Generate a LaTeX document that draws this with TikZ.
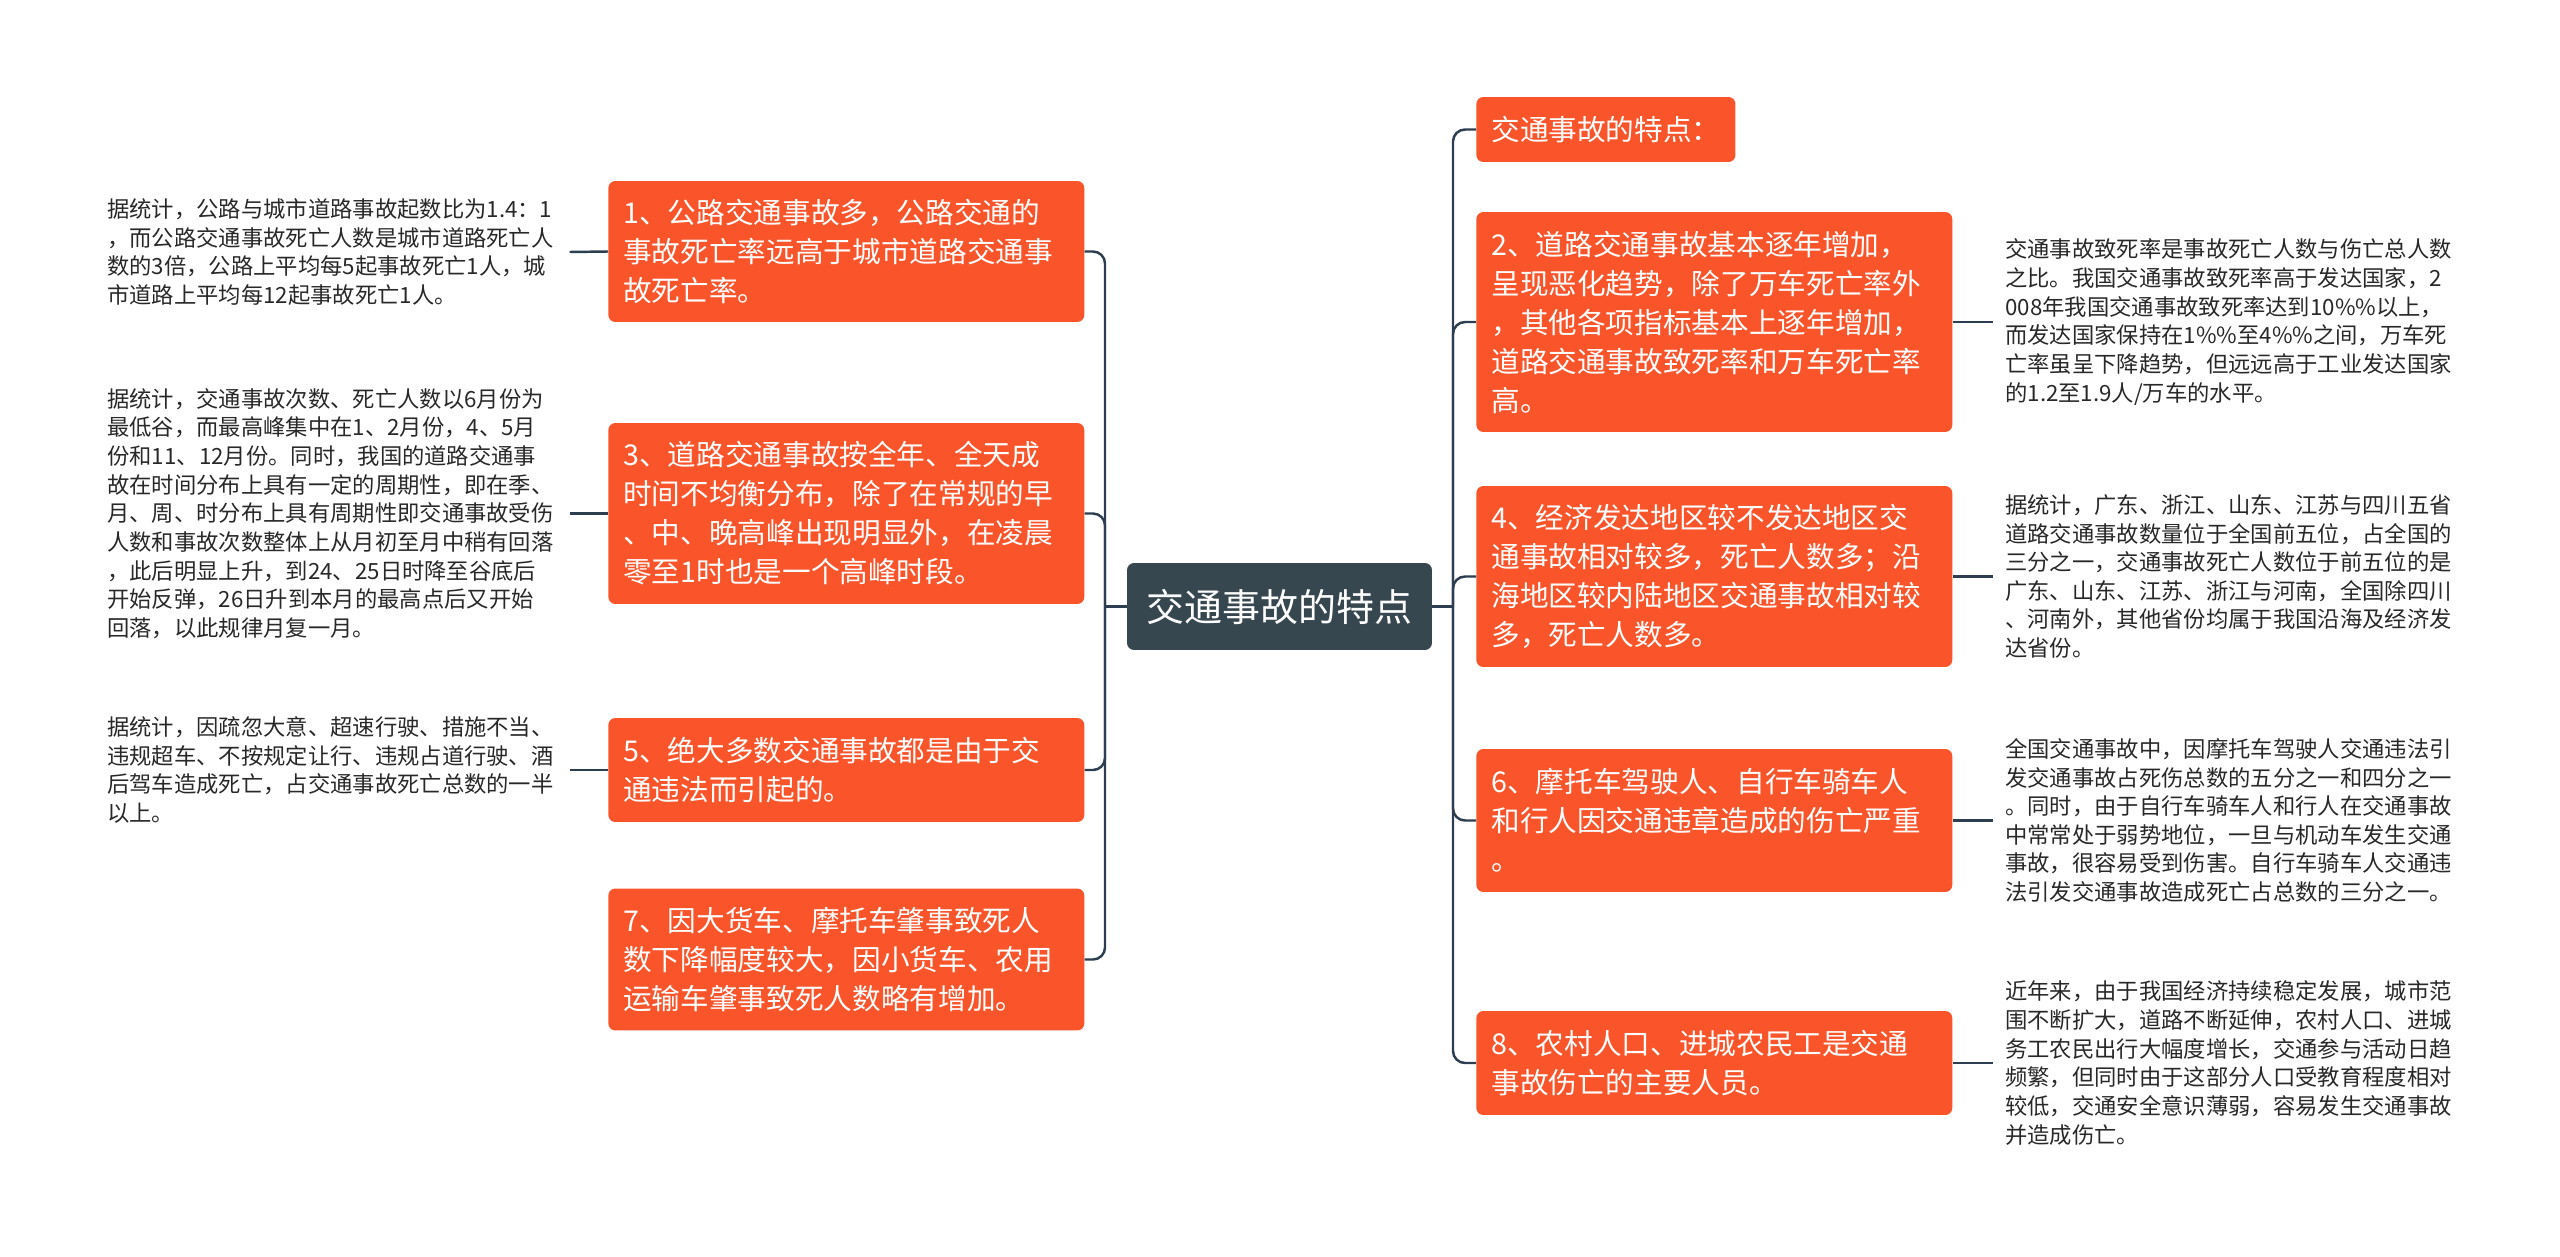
\documentclass[tikz,border=0pt]{standalone}
\usepackage{fontspec}
\setmainfont{Noto Sans CJK SC}
\usepackage{tikz}

\definecolor{boxorange}{RGB}{250,84,43}
\definecolor{rootslate}{RGB}{55,71,79}
\definecolor{linenavy}{RGB}{44,62,80}
\definecolor{notegray}{RGB}{40,40,40}

\begin{document}
\begin{tikzpicture}[
    x=0.02cm, y=-0.02cm,
    mainbox/.style={rounded corners=0.14cm, fill=rootslate, text=white, inner sep=0pt,
        minimum width=6.1cm, minimum height=1.74cm, font=\fontsize{21.6pt}{26pt}\selectfont},
    subbox/.style={rounded corners=0.14cm, fill=boxorange, text=white, anchor=west, align=left,
        inner xsep=0.3cm, inner ysep=0pt, text width=8.92cm, minimum width=9.52cm,
        font=\fontsize{16.3pt}{22.2pt}\selectfont},
    notetext/.style={anchor=west, align=left, text=notegray, inner xsep=0.24cm, inner ysep=0pt,
        text width=9.0cm, font=\fontsize{12.7pt}{16.3pt}\selectfont},
    conn/.style={draw=linenavy, line width=1.4pt, rounded corners=0.24cm}
]
    \useasboundingbox (0,0) rectangle (2560,1257);

    % Central topic
    \node[mainbox] (root) at (1279.5,606.5) {交通事故的特点};
    \coordinate (ljoin) at (1105,606.5);
    \coordinate (rjoin) at (1453,606.5);

    % Left branches
    \node[subbox, minimum height=2.82cm] (b1) at (608,251.5)
        {1、公路交通事故多，公路交通的\\事故死亡率远高于城市道路交通事\\故死亡率。};
    \node[subbox, minimum height=3.62cm] (b3) at (608,513.5)
        {3、道路交通事故按全年、全天成\\时间不均衡分布，除了在常规的早\\、中、晚高峰出现明显外，在凌晨\\零至1时也是一个高峰时段。};
    \node[subbox, minimum height=2.08cm] (b5) at (608,770)
        {5、绝大多数交通事故都是由于交\\通违法而引起的。};
    \node[subbox, minimum height=2.84cm] (b7) at (608,959.5)
        {7、因大货车、摩托车肇事致死人\\数下降幅度较大，因小货车、农用\\运输车肇事致死人数略有增加。};

    % Right branches
    \node[subbox, text width=, minimum width=5.14cm, minimum height=1.3cm, align=center] (r0) at (1476,129.5)
        {交通事故的特点：};
    \node[subbox, minimum height=4.4cm] (r2) at (1476,322)
        {2、道路交通事故基本逐年增加，\\呈现恶化趋势，除了万车死亡率外\\，其他各项指标基本上逐年增加，\\道路交通事故致死率和万车死亡率\\高。};
    \node[subbox, minimum height=3.62cm] (r4) at (1476,576.5)
        {4、经济发达地区较不发达地区交\\通事故相对较多，死亡人数多；沿\\海地区较内陆地区交通事故相对较\\多，死亡人数多。};
    \node[subbox, minimum height=2.86cm] (r6) at (1476,820.5)
        {6、摩托车驾驶人、自行车骑车人\\和行人因交通违章造成的伤亡严重\\。};
    \node[subbox, minimum height=2.08cm] (r8) at (1476,1063)
        {8、农村人口、进城农民工是交通\\事故伤亡的主要人员。};

    % Notes on the left
    \node[notetext] (n1) at (95,252)
        {据统计，公路与城市道路事故起数比为1.4：1\\，而公路交通事故死亡人数是城市道路死亡人\\数的3倍，公路上平均每5起事故死亡1人，城\\市道路上平均每12起事故死亡1人。};
    \node[notetext] (n3) at (95,513.5)
        {据统计，交通事故次数、死亡人数以6月份为\\最低谷，而最高峰集中在1、2月份，4、5月\\份和11、12月份。同时，我国的道路交通事\\故在时间分布上具有一定的周期性，即在季、\\月、周、时分布上具有周期性即交通事故受伤\\人数和事故次数整体上从月初至月中稍有回落\\，此后明显上升，到24、25日时降至谷底后\\开始反弹，26日升到本月的最高点后又开始\\回落，以此规律月复一月。};
    \node[notetext] (n5) at (95,770)
        {据统计，因疏忽大意、超速行驶、措施不当、\\违规超车、不按规定让行、违规占道行驶、酒\\后驾车造成死亡，占交通事故死亡总数的一半\\以上。};

    % Notes on the right
    \node[notetext] (n2) at (1993,322)
        {交通事故致死率是事故死亡人数与伤亡总人数\\之比。我国交通事故致死率高于发达国家，2\\008年我国交通事故致死率达到10\%\%以上，\\而发达国家保持在1\%\%至4\%\%之间，万车死\\亡率虽呈下降趋势，但远远高于工业发达国家\\的1.2至1.9人/万车的水平。};
    \node[notetext] (n4) at (1993,576.5)
        {据统计，广东、浙江、山东、江苏与四川五省\\道路交通事故数量位于全国前五位，占全国的\\三分之一，交通事故死亡人数位于前五位的是\\广东、山东、江苏、浙江与河南，全国除四川\\、河南外，其他省份均属于我国沿海及经济发\\达省份。};
    \node[notetext] (n6) at (1993,820.5)
        {全国交通事故中，因摩托车驾驶人交通违法引\\发交通事故占死伤总数的五分之一和四分之一\\。同时，由于自行车骑车人和行人在交通事故\\中常常处于弱势地位，一旦与机动车发生交通\\事故，很容易受到伤害。自行车骑车人交通违\\法引发交通事故造成死亡占总数的三分之一。};
    \node[notetext] (n8) at (1993,1063)
        {近年来，由于我国经济持续稳定发展，城市范\\围不断扩大，道路不断延伸，农村人口、进城\\务工农民出行大幅度增长，交通参与活动日趋\\频繁，但同时由于这部分人口受教育程度相对\\较低，交通安全意识薄弱，容易发生交通事故\\并造成伤亡。};

    % Trunk lines from the central topic
    \draw[conn] (root.west) -- (ljoin);
    \draw[conn] (root.east) -- (rjoin);
    \foreach \b in {b1,b3,b5,b7}
        \draw[conn] (ljoin) |- (\b.east);
    \foreach \r in {r0,r2,r4,r6,r8}
        \draw[conn] (rjoin) |- (\r.west);

    % Links to the notes
    \draw[conn] (n1.east) -- (b1.west);
    \draw[conn] (n3.east) -- (b3.west);
    \draw[conn] (n5.east) -- (b5.west);
    \draw[conn] (r2.east) -- (n2.west);
    \draw[conn] (r4.east) -- (n4.west);
    \draw[conn] (r6.east) -- (n6.west);
    \draw[conn] (r8.east) -- (n8.west);

\end{tikzpicture}
\end{document}
